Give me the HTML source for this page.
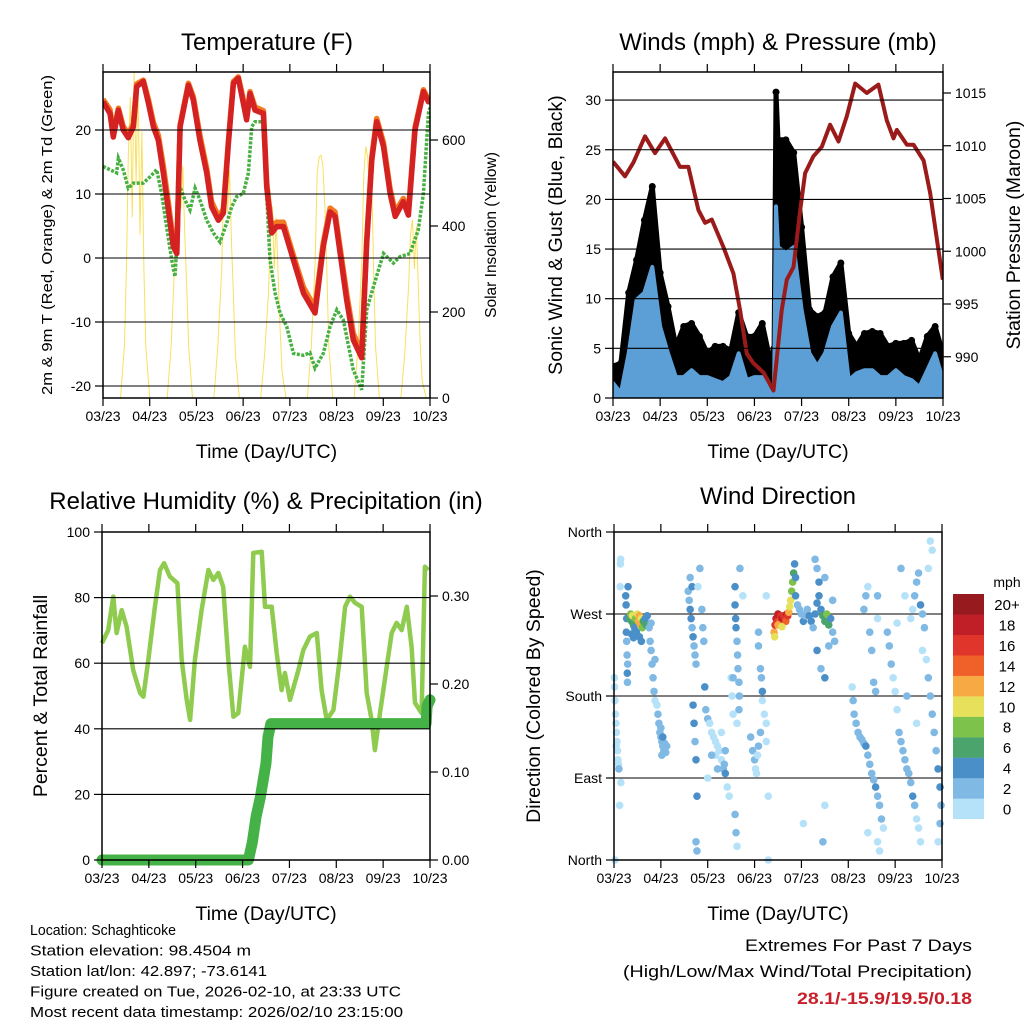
<!DOCTYPE html>
<html><head><meta charset="utf-8"><style>
html,body{margin:0;padding:0;background:#fff;width:1024px;height:1024px;overflow:hidden}
svg{display:block;font-family:"Liberation Sans",sans-serif}
</style></head><body>
<svg id="fig" width="1024" height="1024" viewBox="0 0 1024 1024" xmlns="http://www.w3.org/2000/svg"></svg>
<script>
// ---------- Temperature data ----------
const tRedHours=[0,3.6,5.3,7.9,10.4,13,15.6,17.3,20.7,23.3,25.9,28.4,31,33.6,36.1,37.9,39.6,43.9,46.4,49.8,53.3,55.8,59.3,61.8,64.4,67,69.5,72.1,73.8,75.5,78.1,82.4,84.1,86.7,89.2,92.7,97.8,103,108.9,113.2,116.7,119.2,125.2,128.6,132.9,135.5,138.1,140.6,144.1,147.5,150.1,154.3,156.9,160.3,164.6,167.2,168];
const tRedValues=[24.4,22.6,18.9,23.1,20,18.8,20.5,26.8,27.6,24.2,20.5,18.4,13.3,7.5,1.8,0.7,20.5,27,24.7,18.4,13.3,8,5.9,7,17.9,27.3,28.1,24.2,21.6,25.7,23.1,22.6,11.1,3.9,4.9,4.9,-0.3,-5.5,-8.6,1.8,7.2,6.5,-6.6,-12.8,-15.6,2.3,15.3,21.3,17.4,10.1,6.5,8.8,6.7,20,26,24.4,24.6];
const tOrangeValues=[24.8,23.2,19.6,23.4,20.6,19.4,21,27.2,27.8,24.8,21.2,19.2,14.4,8.6,2.6,1.2,20.8,27.3,25.2,19.2,14,8.8,6.5,7.6,18.3,27.6,28.3,24.8,22,26,23.6,23,11.8,4.6,5.6,5.6,0.4,-4.6,-7.8,2.4,7.8,7.2,-5.6,-11.8,-14.8,2.9,15.8,21.8,18,10.8,7.2,9.3,7.2,20.4,26.3,24.8,25];
const tDewHours=[0,3.6,7,7.9,10.4,13,15.6,20.7,24.2,27.6,30.1,32.7,35.3,37,39.6,42.1,44.7,47.3,49.8,53.3,56.7,60.1,63.5,66.1,68.7,72.1,74.7,76.4,78.1,82,83.2,85.8,88.4,91,94.4,97.8,103,106.3,108.9,113.2,116.7,120.1,123.5,128.6,132.9,135.5,138.9,144.1,149.2,152.6,157.7,162,164.6,167.2,168];
const tDewValues=[14.3,13.8,13.3,15.6,13.8,10.9,11.7,11.7,12.7,13.8,10.1,4.9,-0.3,-2.9,11.1,9.1,7.5,10.9,9.1,5.9,3.9,2.5,5.4,8,9.6,10.1,13.3,20.5,21.3,21.3,15.3,-0.3,-5.5,-8.6,-10.7,-14.9,-15.2,-14.8,-17.2,-14.9,-10.7,-8.1,-9.7,-17.5,-20.6,-8.1,-4.5,0.7,-0.8,0.2,0.7,4.4,10.1,22.6,23.5];
const solarHours=[9,11,12,13,14,15,16,17,18,19,20,21,22,24,26,33,35,37,38,39,40,41,42,43,44,46,48,57,59,61,62,63,64,65,66,67,68,70,72,81,83,85,86,87,88,89,90,91,92,94,96,105,107,109,110,111,112,113,114,115,116,118,120,129,131,133,134,135,136,137,138,139,140,142,144,153,155,157,158,159,160,161,162,163,164,166,168];
const solarValues=[0,120,300,560,700,420,760,500,740,380,620,300,120,0,0,0,120,330,520,570,440,540,380,260,120,0,0,0,120,300,500,560,430,530,360,240,100,0,0,0,100,240,380,445,300,420,280,160,60,0,0,0,120,320,520,560,565,540,440,300,120,0,0,0,120,330,520,585,560,460,520,300,120,0,0,0,100,260,380,415,300,400,260,120,40,0,0];
const tempTicks=[-20,-10,0,10,20];
const solarTicks=[0,200,400,600];
const dayLabels=["03/23","04/23","05/23","06/23","07/23","08/23","09/23","10/23"];
// ---------- Wind data ----------
const windHours=[0,4,8,12,16,20,24,28,32,36,40,44,48,52,56,60,64,68,72,76,80,82,83,84,88,92,96,100,104,108,112,116,120,124,128,132,136,140,144,148,152,156,160,164,168];
const windSpeed=[1.5,0.5,4.5,9.9,10.6,13.2,7.2,4.5,2.1,2.1,2.8,2.1,2.1,1.8,1.5,2.1,4.5,1.8,2.1,2.1,0.5,1,19.3,15.2,14.6,15.2,8.9,4.5,3.2,4.5,7.2,8.6,1.8,2.5,2.8,2.8,2.1,2.1,2.8,2.1,1.8,1.1,2.8,4.5,1.8];
const windGust=[3.2,3.5,10.6,13.9,17.9,21.3,12.6,9.2,5.2,7.2,7.5,6.2,4.5,5.2,5.2,4.8,8.6,6.2,6.2,7.5,3.8,5,30.8,26,26,24.7,17.2,8.9,8.2,8.6,12.2,13.6,6.5,5.2,6.5,6.7,6.5,5.2,5.5,5.5,5.8,3.8,6.2,7.2,4.5];
const presHours=[0,6.1,10.4,16.3,21.4,26.5,34.1,38.4,43.5,46.9,50.3,56.2,61.3,64.7,68.1,71.5,76.6,81.7,85.9,88.5,91.9,95.3,97.8,102,106.3,110.5,114.8,119,123.3,129.2,135.1,139.4,142.8,144.5,149.6,153,158.1,161.5,164,167.9];
const presValues=[1008.5,1007.1,1008.4,1010.9,1009.3,1010.7,1008,1008,1003.9,1002.7,1003,1000.4,997.9,994.4,990.3,989.4,988.5,986.8,994.4,997.3,998.5,1003.9,1007.4,1009,1009.9,1012,1010.4,1012.8,1015.9,1015,1015.8,1012.4,1010.7,1011.5,1010.1,1010.1,1008.6,1005.5,1002.3,997.3];
const windTicks=[0,5,10,15,20,25,30];
const presTicks=[990,995,1000,1005,1010,1015];
// ---------- RH / precip data ----------
const rhHours=[0,3.2,5.8,7.5,10.1,12.6,16,19.5,21.2,23.7,27.1,29.7,31.8,34.8,38.6,40.8,43.4,45.1,47.6,51,54.5,57,59.6,62.1,64.7,67.3,69.8,73.2,75.8,77.5,81.8,83.5,86.9,89.5,92,93.7,96.3,100.6,103.1,106.5,110,112.5,115.1,118.5,121.9,124.5,127,129.6,133,135.6,138.1,139.8,142.4,145.8,148.4,150.9,153.5,156.1,158.6,160.3,163.7,165.4,167.2];
const rhValues=[66.1,70.1,80.3,69.2,76.2,71.1,57.9,50.9,49.8,61,77.2,88.4,90.5,86.4,84.4,61,48.8,42.7,61,76.2,88.4,85.4,87.5,83.3,61,43.7,44.8,65,58.9,93.6,94,77.2,77.2,63.1,51.8,57,48.8,57.9,64,68.1,69.2,51.8,42.7,45.7,62,77.2,80.3,78.4,77.2,50.9,42.7,33.5,44.8,58.9,69.2,72.3,70.1,77.2,65,47.9,44.8,89.4,88.4];
const precipHours=[0,75,77,79,81,82.5,84,85,86.5,166,166.5,168];
const precipValues=[0,0,0.02,0.05,0.07,0.09,0.11,0.14,0.155,0.155,0.175,0.182];
const rhTicks=[0,20,40,60,80,100];
const precipTicks=[0,0.1,0.2,0.3];
const precipLabels=["0.00","0.10","0.20","0.30"];
// ---------- Wind direction data ----------
const dirHours=[0.3,0.5,0.7,1,1.2,1.5,1.8,2,2.3,0.2,1.1,2.5,2.9,3.2,3.3,3.4,0.5,3.5,
6,6.2,6.5,6.3,6.5,6.7,7,6.8,6.9,7.2,
8,8.5,9,9.5,10,10.5,11,12,12.5,13,13.5,14,14.5,15,16,16.5,17,11.5,13,14,9,10,
18,18.5,19,19.5,20,20.5,21,21,19,22,22.5,23,23.5,24,24.5,25,25.5,26,26.5,27,25,24,24.5,
38,38.5,39,39.5,40,40.5,41,41.5,40,39,42,40.5,41,41.5,42,42.5,42,42.5,43,44,45,45.5,46,46.5,
47,48,49,50,51,52,53,52,54,55,56,57,56.5,53,50,58,48,55,57,59,
60,60.5,61,62,62,62.3,62.5,63,63.3,63.5,64,64.2,64,63,62,62.5,63,66,64.5,61,
70,71,72,72.5,73,73.5,74,75,75,75.5,76,76,77,78,78,79,79,74,74,78,
82,82.5,83,83.5,84,85,85.5,86,87,88,88.5,89,89.5,90,90.5,91,91.5,92,92.5,93,84,86,82.3,
93,94,95,96,97,98,99,100,101,102,103,104,105,106,107,108,109,110,111,112,113,105,104,108,112,104,106,108,110,97,107,108,103,
122,122.5,123,124,125,126,127,128,129,130,131,132,133,134,135,136,137,138,130,135,136,128,129,130,131,132,133,134,135,135,
140,141,142,143,144,145,146,147,148,149,150,151,152,153,154,155,156,157,155,150,152,153,154,155,156,157,158,159,160,161,162,163,164,165,166,167,167.5,167,166,163,161,162,158,149,147,145];
const dirDegrees=[190,175,160,150,140,130,120,110,105,200,125,100,60,300,325,330,0,85,
290,280,265,250,240,225,215,205,195,300,
265,270,262,268,258,255,265,270,262,268,258,265,255,262,265,258,268,250,245,240,248,244,
255,240,230,215,200,185,175,220,260,170,160,150,140,135,130,125,120,128,118,125,135,145,115,
295,285,275,265,255,245,235,225,300,310,215,170,150,130,110,70,20,10,300,320,275,255,240,190,
165,155,150,140,135,130,125,115,120,110,100,95,105,100,115,80,90,140,120,70,
200,180,160,300,280,265,255,240,225,210,195,180,165,150,50,30,15,290,320,200,
135,120,110,100,95,115,125,140,210,200,185,175,160,150,130,70,0,235,250,290,
250,258,265,262,270,262,268,265,268,262,270,268,272,278,285,295,305,315,325,310,258,256,245,
290,280,275,270,262,268,275,268,262,255,270,282,290,275,268,262,270,258,265,250,240,305,320,310,285,230,210,200,235,40,20,60,330,
190,175,160,150,140,135,132,128,125,115,105,95,88,80,70,60,45,35,30,20,10,275,290,300,250,230,195,185,265,290,
250,235,215,200,185,165,140,130,120,110,100,95,85,70,60,45,35,20,150,180,265,275,290,305,315,280,270,255,220,200,180,160,140,120,100,80,60,40,20,340,320,350,230,290,320,260];
const dirSpeeds=[1,1,1,1,1,1,1,1,1,1,1,3,1,1,1,1,1,1,
5,5,4,5,3,3,3,5,3,5,
6,8,6,10,6,4,8,10,12,12,12,10,8,6,4,6,4,5,5,4,5,4,
3,3,3,3,3,3,1,3,3,1,3,3,3,3,3,3,3,3,3,3,4,3,3,
3,3,4,4,3,4,3,3,4,3,3,4,4,3,4,4,3,3,1,3,3,3,3,4,
3,3,1,1,1,1,1,1,1,1,3,4,3,3,3,1,1,1,3,1,
1,1,1,5,5,5,4,3,3,3,3,3,3,1,3,3,1,1,3,3,
3,3,3,1,1,1,3,3,3,3,4,1,1,1,1,1,1,3,3,1,
12,16,18,16,18,14,16,18,16,14,18,16,12,10,10,8,8,6,5,4,12,10,10,
4,3,3,3,4,3,3,4,5,3,4,5,4,5,6,6,8,6,4,3,3,4,3,3,3,4,3,4,3,1,3,1,3,
1,3,3,3,3,3,3,3,4,3,3,3,3,4,3,3,3,1,1,1,1,3,3,1,3,3,3,3,1,3,
3,3,3,1,1,1,3,3,3,3,3,3,3,4,3,1,1,1,1,3,1,1,3,3,3,4,3,3,1,3,3,3,3,3,4,4,3,3,1,1,1,1,1,1,3,1];
const dirTicks=[0,90,180,270,360];
const dirLabels=["North","East","South","West","North"];
const speedBins=[0,2,4,6,8,10,12,14,16,18,20];
const speedBinLabels=["0","2","4","6","8","10","12","14","16","18","20+"];
const speedColors=["#b5e2f8","#7fb9e4","#4b8fc8","#4aa46c","#7cc24b","#e6e05a","#f7a944","#f06029","#e0352b","#c11f27","#961a1e"];

// ---------- drawing ----------
const NS="http://www.w3.org/2000/svg";
const svg=document.getElementById('fig');
function mk(tag,attrs,parent){const e=document.createElementNS(NS,tag);for(const k in attrs)e.setAttribute(k,attrs[k]);(parent||svg).appendChild(e);return e;}
function txt(s,x,y,size,anchor,parent,extra){const e=mk('text',Object.assign({x:x,y:y,'font-size':size,'text-anchor':anchor||'middle',fill:'#000'},extra||{}),parent);e.textContent=s;return e;}
function poly(xs,ys){let d='';for(let i=0;i<xs.length;i++)d+=(i?'L':'M')+xs[i].toFixed(1)+' '+ys[i].toFixed(1);return d;}

function panel(name,L,R,T,B){
  const g=mk('g',{});
  
  
  return {g,L,R,T,B,x:h=>L+h/168*(R-L)};
}
function frame(p){
  const b=mk('rect',{x:p.L,y:p.T,width:p.R-p.L,height:p.B-p.T,fill:'none',stroke:'#000','stroke-width':1.5},p.g);
  
  
  for(let i=0;i<8;i++){
    const xx=p.L+i*(p.R-p.L)/7;
    const tk=mk('path',{d:`M${xx} ${p.B}v8M${xx} ${p.T}v-8`,stroke:'#000','stroke-width':1.2},p.g);
    
    
    const lb=txt(dayLabels[i],xx,p.B+23,14,'middle',p.g);
    
    
  }
  const xt=txt('Time (Day/UTC)',(p.L+p.R)/2,p.B+60,19.5,'middle',p.g);
  
  
}
function grid(p,ys){ys.forEach(y=>{const l=mk('line',{x1:p.L,x2:p.R,y1:y,y2:y,stroke:'#000','stroke-width':1.1},p.g);});}
function leftTicks(p,vals,labels,ymap,name){vals.forEach((v,i)=>{const y=ymap(v);const t=mk('path',{d:`M${p.L} ${y}h-8`,stroke:'#000','stroke-width':1.2},p.g);const l=txt(labels[i],p.L-12,y+5,14,'end',p.g);});}
function rightTicks(p,vals,labels,ymap,name){vals.forEach((v,i)=>{const y=ymap(v);const t=mk('path',{d:`M${p.R} ${y}h8`,stroke:'#000','stroke-width':1.2},p.g);const l=txt(labels[i],p.R+12,y+5,14,'start',p.g);});}
function vtitle(s,x,y,size,p,name,len){const e=txt(s,x,y,size,'middle',p.g,{transform:`rotate(-90 ${x} ${y})`});if(len){e.setAttribute('textLength',len);e.setAttribute('lengthAdjust','spacingAndGlyphs');}return e;}
function title(s,x,y,p,name){const e=txt(s,x,y,24,'middle',p.g);}

// Panel 1: temperature
(function(){
  const p=panel('temperature-panel',103,430,72,398);
  const yT=v=>258-v*6.4, yS=v=>398-v*0.43;
  const clip=mk('clipPath',{id:'c1'},p.g);mk('rect',{x:p.L,y:p.T,width:p.R-p.L,height:p.B-p.T},clip);
  const data=mk('g',{'clip-path':'url(#c1)'},p.g);
  const sol=mk('path',{d:poly(solarHours.map(p.x),solarValues.map(yS)),fill:'none',stroke:'#f8e05c','stroke-width':1},data);
  
  
  grid(p,tempTicks.map(yT));
  const dew=mk('path',{d:poly(tDewHours.map(p.x),tDewValues.map(yT)),fill:'none',stroke:'#46b040','stroke-width':3.5,'stroke-dasharray':'3 1.5'},data);
  
  
  const org=mk('path',{d:poly(tRedHours.map(p.x),tOrangeValues.map(yT)),fill:'none',stroke:'#f47a22','stroke-width':5.5,'stroke-linejoin':'round'},data);
  
  
  const red=mk('path',{d:poly(tRedHours.map(p.x),tRedValues.map(yT)),fill:'none',stroke:'#d42222','stroke-width':5.5,'stroke-linejoin':'round'},data);
  
  
  frame(p);
  leftTicks(p,tempTicks,tempTicks.map(String),yT,'temp-axis');
  rightTicks(p,solarTicks,solarTicks.map(String),yS,'solar-axis');
  vtitle('2m & 9m T (Red, Orange) & 2m Td (Green)',52,235,15,p,'temp-y-axis-title',320);
  vtitle('Solar Insolation (Yellow)',496,235,15.5,p,'solar-y-axis-title');
  title('Temperature (F)',267,50,p,'temperature-title');
})();

// Panel 2: winds
(function(){
  const p=panel('winds-panel',613,943,72,398);
  const yW=v=>398-v*9.93, yP=v=>93+(1015-v)*10.55;
  const clip=mk('clipPath',{id:'c2'},p.g);mk('rect',{x:p.L,y:p.T,width:p.R-p.L,height:p.B-p.T},clip);
  const data=mk('g',{'clip-path':'url(#c2)'},p.g);
  grid(p,windTicks.map(yW));
  const xs=windHours.map(p.x);
  const gArea=mk('path',{d:poly(xs,windGust.map(yW))+`L${p.R} ${p.B}L${p.L} ${p.B}Z`,fill:'#000',stroke:'#000','stroke-width':5,'stroke-linejoin':'round'},data);
  
  
  windHours.forEach((h,i)=>{const c=mk('circle',{cx:p.x(h),cy:yW(windGust[i]),r:3.5,fill:'#000'},data);
    
    });
  const wArea=mk('path',{d:poly(xs,windSpeed.map(yW))+`L${p.R} ${p.B}L${p.L} ${p.B}Z`,fill:'#5b9fd6',stroke:'#5b9fd6','stroke-width':4,'stroke-linejoin':'round'},data);
  
  
  const pr=mk('path',{d:poly(presHours.map(p.x),presValues.map(yP)),fill:'none',stroke:'#9b1b1b','stroke-width':4,'stroke-linejoin':'round'},data);
  
  
  frame(p);
  leftTicks(p,windTicks,windTicks.map(String),yW,'wind-axis');
  rightTicks(p,presTicks,presTicks.map(String),yP,'pressure-axis');
  vtitle('Sonic Wind & Gust (Blue, Black)',562,235,19.5,p,'wind-y-axis-title');
  vtitle('Station Pressure (Maroon)',1020,235,19.5,p,'pressure-y-axis-title');
  title('Winds (mph) & Pressure (mb)',778,50,p,'winds-title');
})();

// Panel 3: RH / precip
(function(){
  const p=panel('humidity-panel',102,430,532,860);
  const yR=v=>860-v*3.28, yPr=v=>860-v*880;
  const clip=mk('clipPath',{id:'c3'},p.g);mk('rect',{x:p.L-10,y:p.T,width:p.R-p.L+20,height:p.B-p.T+10},clip);
  const data=mk('g',{'clip-path':'url(#c3)'},p.g);
  grid(p,rhTicks.map(yR));
  const rh=mk('path',{d:poly(rhHours.map(p.x),rhValues.map(yR)),fill:'none',stroke:'#8ecb4e','stroke-width':4.5,'stroke-linejoin':'round'},data);
  
  
  const pc=mk('path',{d:poly(precipHours.map(p.x),precipValues.map(yPr)),fill:'none',stroke:'#44b246','stroke-width':11,'stroke-linejoin':'round','stroke-linecap':'round'},data);
  
  
  frame(p);
  leftTicks(p,rhTicks,rhTicks.map(String),yR,'rh-axis');
  rightTicks(p,precipTicks,precipLabels,yPr,'precip-axis');
  vtitle('Percent & Total Rainfall',47,696,19.5,p,'rh-y-axis-title');
  title('Relative Humidity (%) & Precipitation (in)',266,509,p,'humidity-title');
})();

// Panel 4: wind direction
(function(){
  const p=panel('wind-direction-panel',614,942,532,860);
  const yD=v=>860-v*0.9111;
  grid(p,dirTicks.map(yD));
  const data=mk('g',{},p.g);
  dirHours.forEach((h,i)=>{
    let bi=0;for(let k=0;k<speedBins.length;k++)if(dirSpeeds[i]>=speedBins[k])bi=k;
    const c=mk('circle',{cx:p.x(h),cy:yD(dirDegrees[i]),r:3.8,fill:speedColors[bi]},data);
    
    
  });
  frame(p);
  leftTicks(p,dirTicks,dirLabels,yD,'direction-axis');
  vtitle('Direction (Colored By Speed)',540,696,19.5,p,'direction-y-axis-title');
  title('Wind Direction',778,504,p,'wind-direction-title');
  const lg=mk('g',{},p.g);
  
  
  const mph=txt('mph',1007,587,14,'middle',lg);
  
  
  for(let k=0;k<11;k++){
    const y=594+(10-k)*20.45;
    const r=mk('rect',{x:953,y:y,width:31,height:20.6,fill:speedColors[k]},lg);
    
    
    const t=txt(speedBinLabels[k],1007,y+16,15,'middle',lg);
    
    
  }
})();

// Footer
(function(){
  const g=mk('g',{});
  
  
  const lines=[["Location: Schaghticoke",146],["Station elevation: 98.4504 m",221],["Station lat/lon: 42.897; -73.6141",237],["Figure created on Tue, 2026-02-10, at 23:33 UTC",371],["Most recent data timestamp: 2026/02/10 23:15:00",373]];
  lines.forEach((l,i)=>{const t=txt(l[0],30,935+i*20.5,15,'start',g,{textLength:l[1],lengthAdjust:'spacingAndGlyphs'});
    
    });
  const g2=mk('g',{});
  
  
  const a=txt('Extremes For Past 7 Days',972,951,17,'end',g2,{textLength:227,lengthAdjust:'spacingAndGlyphs'});
  
  
  const b=txt('(High/Low/Max Wind/Total Precipitation)',972,977,17,'end',g2,{textLength:349,lengthAdjust:'spacingAndGlyphs'});
  
  
  const c=txt('28.1/-15.9/19.5/0.18',972,1004,17,'end',g2,{textLength:175,lengthAdjust:'spacingAndGlyphs',fill:'#c8202a','font-weight':'bold'});
  
  
})();
</script>
</body></html>
